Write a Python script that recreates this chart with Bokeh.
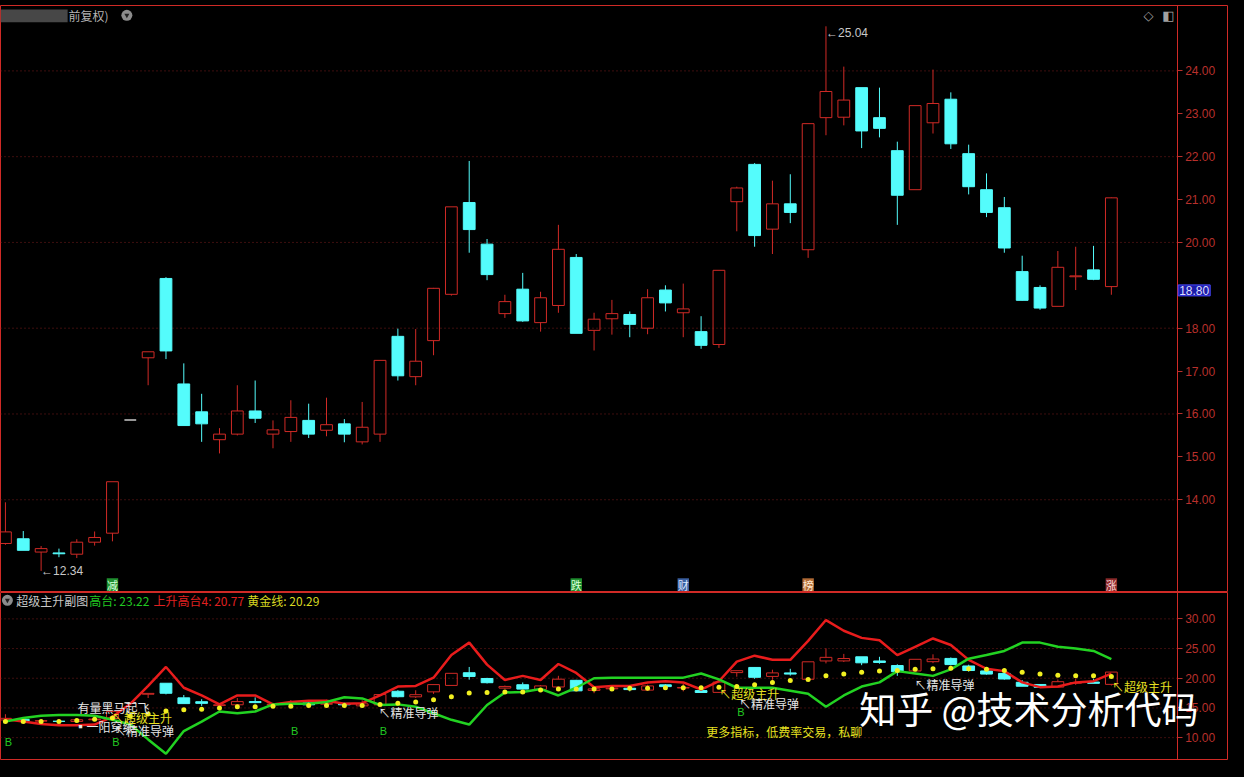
from bokeh.plotting import figure
from bokeh.models import (Range1d, LinearAxis, FixedTicker, Label, ColumnDataSource,
                          NumeralTickFormatter)
from bokeh.layouts import column
from bokeh.embed import file_html
from bokeh.resources import INLINE

# ---------------- data ----------------
opens = [12.98, 13.09, 12.78, 12.76, 12.73, 13.01, 13.22, 15.86, 17.31, 19.16,
         16.70, 16.05, 15.40, 15.53, 16.07, 15.53, 15.59, 15.85, 15.62, 15.77,
         15.35, 15.53, 17.81, 16.87, 17.71, 18.79, 20.93, 19.96, 18.34, 18.91,
         18.13, 18.53, 19.65, 17.95, 18.22, 18.32, 18.00, 18.89, 18.36, 17.92,
         17.62, 20.95, 21.82, 20.31, 20.90, 19.83, 22.91, 22.92, 23.61, 22.91,
         22.14, 21.23, 22.79, 23.34, 22.07, 21.23, 20.81, 19.32, 18.95, 18.51,
         19.20, 19.36, 18.97]
highs = [13.94, 13.27, 12.92, 12.86, 13.08, 13.26, 14.42, 15.86, 17.45, 19.19,
         17.18, 16.47, 15.67, 16.67, 16.78, 15.85, 16.32, 16.24, 16.38, 15.88,
         16.28, 17.25, 17.99, 17.98, 18.94, 20.83, 21.90, 20.08, 18.78, 19.29,
         18.85, 20.41, 19.73, 18.36, 18.66, 18.39, 18.91, 19.00, 19.04, 18.28,
         19.35, 21.30, 21.85, 21.44, 21.59, 22.77, 25.04, 24.10, 23.61, 23.61,
         22.35, 23.19, 24.03, 23.50, 22.28, 21.61, 21.06, 19.69, 19.00, 19.80,
         19.90, 19.92, 21.05]
lows = [12.95, 12.82, 12.34, 12.66, 12.64, 12.93, 13.03, 15.86, 16.67, 17.28,
        15.73, 15.35, 15.08, 15.50, 15.79, 15.20, 15.35, 15.44, 15.48, 15.34,
        15.29, 15.35, 16.78, 16.67, 17.37, 18.76, 19.76, 19.12, 18.24, 18.15,
        17.92, 18.36, 17.88, 17.48, 17.85, 17.79, 17.86, 18.39, 17.79, 17.52,
        17.54, 20.26, 19.90, 19.73, 20.45, 19.64, 22.50, 22.73, 22.20, 22.45,
        20.41, 21.23, 22.54, 22.18, 21.12, 20.59, 19.76, 18.64, 18.43, 18.51,
        18.89, 19.12, 18.78]
closes = [13.25, 12.82, 12.86, 12.74, 13.01, 13.12, 14.42, 15.86, 17.45, 17.47,
          15.73, 15.77, 15.53, 16.07, 15.90, 15.63, 15.92, 15.53, 15.75, 15.53,
          15.69, 17.25, 16.89, 17.23, 18.93, 20.83, 20.30, 19.25, 18.62, 18.17,
          18.71, 19.84, 17.88, 18.21, 18.34, 18.09, 18.71, 18.59, 18.45, 17.60,
          19.35, 21.27, 20.16, 20.90, 20.70, 22.77, 23.52, 23.32, 22.60, 22.66,
          21.10, 23.19, 23.24, 22.30, 21.30, 20.70, 19.87, 18.65, 18.47, 19.42,
          19.22, 19.14, 21.04]

# indicator series (超级主升副图)
gaotai = [12.7, 13.3, 13.7, 13.8, 13.8, 13.7, 13.0, 12.2, 9.7, 7.3,
          11.1, 12.7, 14.4, 14.1, 14.4, 15.6, 15.7, 15.7, 16.0, 16.8,
          16.6, 15.5, 15.6, 15.2, 14.1, 13.0, 12.2, 15.5, 17.6, 17.7,
          18.2, 17.1, 18.4, 20.0, 20.1, 20.1, 20.1, 20.1, 20.1, 20.8,
          19.8, 18.4, 18.4, 18.4, 17.9, 17.4, 15.2, 17.1, 18.6, 19.3,
          21.2, 20.8, 20.4, 21.5, 23.3, 23.9, 24.6, 26.0, 26.0, 25.3,
          25.0, 24.6, 23.22]
shenggao4 = [13.1, 12.7, 12.3, 12.1, 12.1, 12.2, 13.5, 15.7, 18.7, 21.9,
             18.4, 17.1, 15.6, 17.1, 17.1, 15.6, 16.0, 16.2, 16.2, 15.7,
             15.8, 17.1, 18.6, 18.7, 20.1, 23.9, 26.0, 22.3, 19.7, 20.4,
             19.7, 22.4, 20.9, 18.5, 18.7, 18.7, 19.3, 19.5, 19.3, 18.1,
             19.5, 22.8, 23.8, 23.1, 23.1, 26.3, 29.8, 28.0, 26.8, 26.4,
             23.9, 25.3, 26.7, 25.6, 23.1, 21.6, 21.2, 19.3, 18.5, 18.6,
             19.3, 19.5, 20.77]
huangjin = [12.7, 12.7, 12.7, 12.7, 12.9, 13.1, 13.3, 13.6, 14.0, 14.5,
            14.7, 14.8, 15.0, 15.2, 15.2, 15.3, 15.3, 15.4, 15.4, 15.4,
            15.4, 15.6, 15.8, 16.0, 16.4, 16.9, 17.5, 17.6, 17.7, 17.7,
            18.0, 18.2, 18.2, 18.2, 18.2, 18.3, 18.3, 18.4, 18.4, 18.4,
            18.5, 18.6, 18.9, 19.3, 19.6, 19.8, 20.4, 20.7, 21.0, 21.2,
            21.3, 21.5, 21.6, 21.7, 21.6, 21.5, 21.3, 21.0, 20.7, 20.5,
            20.4, 20.4, 20.29]

main_ticks = [14, 15, 16, 17, 18, 20, 21, 22, 23, 24]
main_grid = [14, 16, 18, 20, 22, 24]
sub_ticks = [10, 15, 20, 25, 30]
badge_idx = [6, 32, 38, 45, 62]
badge_txt = ["减", "跌", "财", "榜", "涨"]
low_mark = 12.34
high_mark = 25.04
cursor_price = 18.80

# ---------------- style ----------------
RED = "#d02a26"
CYAN = "#54fcfc"
FLAT = "#c8c8c8"
AXIS_RED = "#b8302c"
GRID_C = "#7a1c1c"
CJK = "Noto Sans CJK SC"
WHITE = "#e6e6e6"
YELLOW = "#e6e020"
GREEN = "#22c822"
BW = 0.66

W = 1228
H_MAIN = 592
H_SUB = 168


def ix(xr):
    return (xr - 5) / 18.07


def py(yr):
    return 18 + (334.3 - yr) / 43.76


def ly(yr):
    return 20 + (692.3 - yr) / 6.115


x_rng = Range1d(ix(0), ix(1244))
AX_X = ix(1192)          # position of the price-axis line
n = len(opens)
xs = list(range(n))


def draw_candles(fig):
    up_i = [i for i in xs if closes[i] > opens[i]]
    dn_i = [i for i in xs if closes[i] < opens[i]]
    fl_i = [i for i in xs if closes[i] == opens[i]]
    for idx, col, fill in ((up_i, RED, None), (dn_i, CYAN, CYAN), (fl_i, FLAT, None)):
        src = ColumnDataSource(dict(
            x=idx,
            top=[max(opens[i], closes[i]) for i in idx],
            bot=[min(opens[i], closes[i]) for i in idx],
            hi=[highs[i] for i in idx],
            lo=[lows[i] for i in idx],
            x0=[i - BW / 2 for i in idx],
            x1=[i + BW / 2 for i in idx],
        ))
        fig.segment(x0="x", y0="hi", x1="x", y1="top", source=src, line_color=col, line_width=1)
        fig.segment(x0="x", y0="bot", x1="x", y1="lo", source=src, line_color=col, line_width=1)
        if col == FLAT:
            fig.segment(x0="x0", y0="top", x1="x1", y1="top", source=src, line_color=col, line_width=1.5)
        else:
            fig.vbar(x="x", top="top", bottom="bot", width=BW, source=src,
                     fill_color=fill, line_color=col, line_width=1)


def add_price_axis(fig, ticks, grid_ticks):
    # dotted horizontal guide lines, left of the axis
    fig.segment(x0=ix(0), x1=AX_X, y0=grid_ticks, y1=grid_ticks, line_color=GRID_C,
                line_dash="1 3", line_width=1)
    ax = LinearAxis(ticker=FixedTicker(ticks=ticks), formatter=NumeralTickFormatter(format="0.00"),
                    fixed_location=AX_X,
                    axis_line_color=RED, major_tick_line_color=AXIS_RED, minor_tick_line_color=None,
                    major_tick_in=0, major_tick_out=5, major_label_text_color=AXIS_RED,
                    major_label_text_font="Liberation Sans", major_label_text_font_size="12px",
                    major_label_standoff=3)
    fig.add_layout(ax, "right")


def lab(fig, x, y, text, color, size="12px", align="left", font=CJK, baseline="middle"):
    fig.add_layout(Label(x=x, y=y, text=text, text_color=color, text_font=font,
                         text_font_size=size, text_align=align, text_baseline=baseline))


def base_fig(height, y_rng, top_border):
    f = figure(width=W, height=height, x_range=x_rng, y_range=y_rng,
               output_backend="svg", toolbar_location=None, x_axis_location=None, y_axis_location=None,
               min_border_left=0, min_border_right=0, min_border_top=top_border, min_border_bottom=0,
               background_fill_color="black", border_fill_color="black",
               outline_line_color=RED, outline_line_width=1)
    f.xgrid.grid_line_color = None
    f.ygrid.grid_line_color = None
    f.xgrid.visible = False
    f.ygrid.visible = False
    return f


# ---------------- main panel ----------------
p = base_fig(H_MAIN, Range1d(py(604), py(5)), 5)
add_price_axis(p, main_ticks, main_grid)

draw_candles(p)

# extreme marks
lab(p, 2, low_mark, "\u2190" + f"{low_mark:.2f}", "#c8c8c8", font="Liberation Sans")
lab(p, 46, high_mark, "\u2190" + f"{high_mark:.2f}", "#c8c8c8", font="Liberation Sans", baseline="top")

# header of main panel
p.quad(left=[ix(0)], right=[ix(68)], top=[py(9)], bottom=[py(22)], fill_color="#474747", line_color=None)
lab(p, ix(69), py(15), "前复权)", "#b4b4b4")
p.scatter([ix(128)], [py(15)], size=11, fill_color="#8c8c8c", line_color=None)
p.scatter([ix(128)], [py(15)], size=5, marker="inverted_triangle", fill_color="#202020", line_color=None)
lab(p, ix(1163), py(15), "\u25C7", "#a0a0a0", size="13px", align="center", font="DejaVu Sans")
lab(p, ix(1183), py(15), "\u25E7", "#a0a0a0", size="13px", align="center", font="DejaVu Sans")

# event badges
badge_bg = ["#1f8f2f", "#1f8f2f", "#3a5fa0", "#b06a35", "#8a2a2a"]
badge_fg = ["#d8ffd8", "#d8ffd8", "#dce8ff", "#ffe8d0", "#ffd8d8"]
p.rect(x=badge_idx, y=[py(596)] * len(badge_idx), width=0.64, height=13 / 43.76,
       fill_color=badge_bg, line_color=None)
for k, (bi, bt) in enumerate(zip(badge_idx, badge_txt)):
    lab(p, bi, py(596), bt, badge_fg[k], size="11px", align="center")

# cursor price tag on the axis
p.add_layout(Label(x=ix(1193), y=cursor_price, y_offset=-2, text=f"{cursor_price:.2f}",
                   text_color="#dcdcff",
                   text_font="Liberation Sans", text_font_size="12px", text_align="left",
                   text_baseline="bottom", background_fill_color="#1c1ca8",
                   border_line_color="#4848ff", padding=1))

# ---------------- indicator panel ----------------
q = base_fig(H_SUB, Range1d(ly(777), ly(604)), 0)
add_price_axis(q, sub_ticks, sub_ticks)

draw_candles(q)
q.line(xs, shenggao4, line_color="#e81c1c", line_width=2.5)
q.line(xs, gaotai, line_color="#22d222", line_width=2.5)
q.scatter(xs, huangjin, size=5, fill_color="#f2f020", line_color=None)

# header of indicator panel
q.scatter([ix(7)], [ly(612)], size=11, fill_color="#8c8c8c", line_color=None)
q.scatter([ix(7)], [ly(612)], size=5, marker="inverted_triangle", fill_color="#202020", line_color=None)
lab(q, ix(16), ly(612), "超级主升副图", "#c8c8c8")
lab(q, ix(90), ly(612), f"高台: {gaotai[-1]:.2f}", GREEN)
lab(q, ix(155), ly(612), f"上升高台4: {shenggao4[-1]:.2f}", "#e02020")
lab(q, ix(250), ly(612), f"黄金线: {huangjin[-1]:.2f}", "#d8d820")

# signal texts
lab(q, ix(78), ly(722), "有量黑马起飞", WHITE)
lab(q, ix(75), ly(742), "\u25AA一阳穿线", WHITE)
lab(q, ix(113), ly(733), "\u2196超级主升", YELLOW)
lab(q, ix(115), ly(746), "\u2196精准导弹", WHITE)
lab(q, ix(383), ly(728), "\u2196精准导弹", WHITE)
lab(q, ix(728), ly(708), "\u2196超级主升", YELLOW)
lab(q, ix(748), ly(718), "\u2196精准导弹", WHITE)
lab(q, ix(926), ly(699), "\u2196精准导弹", WHITE)
lab(q, ix(1126), ly(701), "\u2196超级主升", YELLOW)
lab(q, ix(715), ly(747), "更多指标，低费率交易，私聊", YELLOW)
for bx, by in ((8, 758), (117, 758), (298, 747), (388, 747), (750, 727)):
    lab(q, ix(bx), ly(by), "B", GREEN, size="11px", align="center", font="Liberation Sans")

# watermark
lab(q, ix(870), ly(723), "知乎 @技术分析代码", "#ffffff", size="37px")

layout = column(p, q, spacing=0)
html = file_html(layout, INLINE)
html = html.replace("</head>", "<style>html,body{background:#000;}</style></head>", 1)
open("out.html", "w").write(html)
